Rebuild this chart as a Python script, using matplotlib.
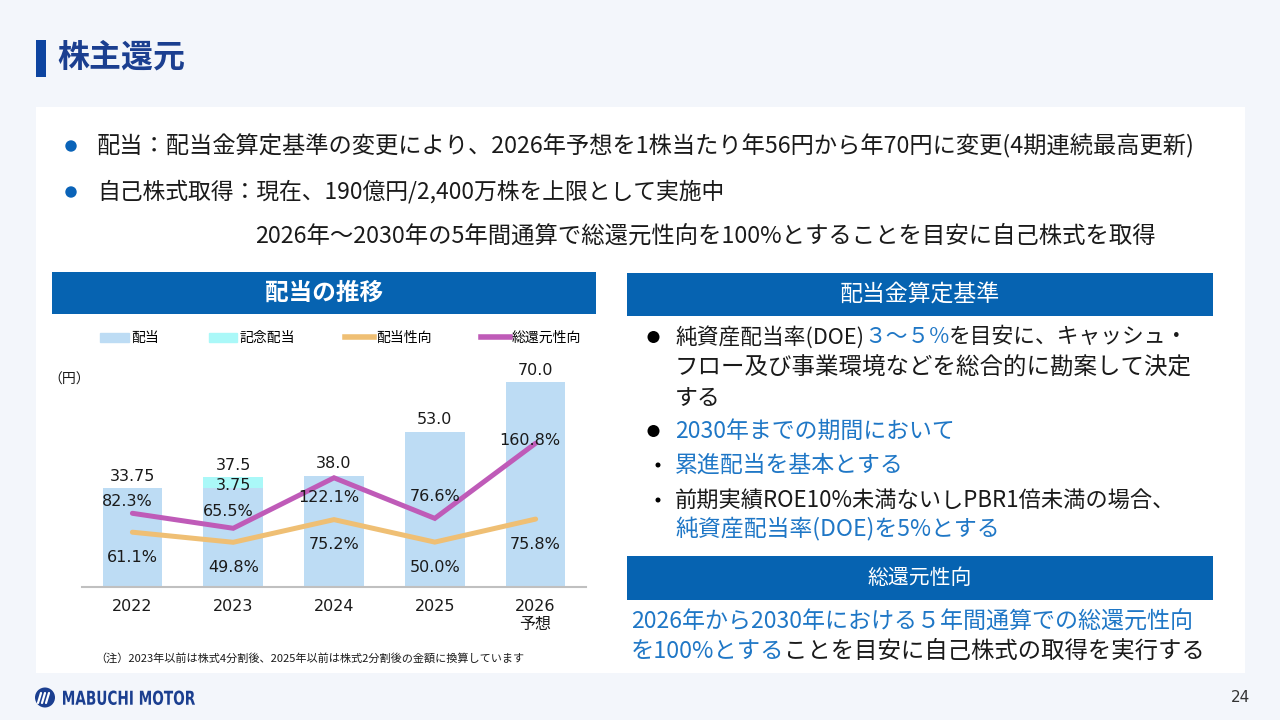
import matplotlib
matplotlib.use('Agg')
import matplotlib.pyplot as plt
from matplotlib import font_manager
from matplotlib.font_manager import FontProperties
from matplotlib.patches import Rectangle, Circle, Patch, PathPatch
from matplotlib.lines import Line2D
from matplotlib.textpath import TextPath
from matplotlib.transforms import Affine2D

plt.rcParams['font.family'] = ['Noto Sans CJK JP', 'DejaVu Sans']

# values
years = ['2022', '2023', '2024', '2025', '2026\n予想']
dividend = [33.75, 33.75, 38.0, 53.0, 70.0]
commemorative = [0.0, 3.75, 0.0, 0.0, 0.0]
dividend_labels = ['33.75', '37.5', '38.0', '53.0', '70.0']
payout_ratio = [61.1, 49.8, 75.2, 50.0, 75.8]
total_return_ratio = [82.3, 65.5, 122.1, 76.6, 160.8]
legend_labels = ['配当', '記念配当', '配当性向', '総還元性向']

# colours
BAR = '#bddcf4'
CYAN = '#aaf8f8'
ORANGE = '#efbf74'
PURPLE = '#bf5bb8'
HEAD = '#0663b1'
NAVY = '#1b3f90'
BLUE_TXT = '#1f77c6'
INK = '#1a1a1a'

W, H = 1280, 720


def has_font(name):
    try:
        font_manager.findfont(name, fallback_to_default=False)
        return True
    except ValueError:
        return False


NARROW = 'Liberation Sans Narrow' if has_font('Liberation Sans Narrow') else 'DejaVu Sans'
NUM_FONT = [NARROW, 'Noto Sans CJK JP']

fig = plt.figure(figsize=(W / 100, H / 100), dpi=100)
fig.patch.set_facecolor('#f3f6fb')

# background axes in pixel coordinates for the slide furniture
bg = fig.add_axes([0, 0, 1, 1])
bg.set_xlim(0, W)
bg.set_ylim(H, 0)
bg.axis('off')
bg.set_zorder(0)
renderer = fig.canvas.get_renderer()


def runs(x, y, parts, size=16.5, end=None):
    """draw coloured pieces of one line; if end is given, scale the size so the line ends there"""
    if end is not None:
        probe = bg.text(x, y, ''.join(s for s, _ in parts), fontsize=size, va='center')
        wid = probe.get_window_extent(renderer=renderer).width
        probe.remove()
        size = size * (end - x) / wid
    for s, c in parts:
        t = bg.text(x, y, s, fontsize=size, color=c, va='center', ha='left')
        x += t.get_window_extent(renderer=renderer).width


bg.add_patch(Rectangle((36, 107), 1209, 566, color='white', lw=0))

# title
bg.add_patch(Rectangle((36, 39.5), 10, 37, color='#0d44a0', lw=0))
bg.text(57, 58, '株主還元', fontsize=23, fontweight='bold', color=NAVY, va='center')

# top bullets
for yy in (146, 192):
    bg.add_patch(Circle((71, yy), 5.7, color='#0a63b8', lw=0))
runs(97, 146, [('配当：配当金算定基準の変更により、2026年予想を1株当たり年56円から年70円に変更(4期連続最高更新)', INK)],
     size=16, end=1197)
runs(97, 192, [('自己株式取得：現在、190億円/2,400万株を上限として実施中', INK)], size=16, end=727)
runs(255, 236, [('2026年～2030年の5年間通算で総還元性向を100%とすることを目安に自己株式を取得', INK)],
     size=16, end=1159)

# section headers
bg.add_patch(Rectangle((52, 272), 544, 42, color=HEAD, lw=0))
bg.text(324, 293, '配当の推移', fontsize=17, fontweight='bold', color='white', ha='center', va='center')
bg.add_patch(Rectangle((627, 273), 586, 43, color=HEAD, lw=0))
bg.text(920, 295, '配当金算定基準', fontsize=16.5, color='white', ha='center', va='center')
bg.add_patch(Rectangle((627, 556), 586, 44, color=HEAD, lw=0))
bg.text(920, 578, '総還元性向', fontsize=15, color='white', ha='center', va='center')

# right panel text
bg.add_patch(Circle((653.5, 337), 6, color='black', lw=0))
bg.add_patch(Circle((653.5, 431), 6, color='black', lw=0))
bg.add_patch(Circle((658, 465), 2.5, color='black', lw=0))
bg.add_patch(Circle((658, 500), 2.5, color='black', lw=0))
runs(675, 337, [('純資産配当率(DOE)', INK), ('３～５%', BLUE_TXT), ('を目安に、キャッシュ・', INK)], end=1187)
runs(675, 368, [('フロー及び事業環境などを総合的に勘案して決定', INK)], end=1190)
runs(675, 398, [('する', INK)])
runs(675, 431, [('2030年までの期間において', BLUE_TXT)])
runs(675, 465, [('累進配当を基本とする', BLUE_TXT)])
runs(675, 500, [('前期実績ROE10%未満ないしPBR1倍未満の場合、', INK)], end=1175)
runs(675, 529, [('純資産配当率(DOE)を5%とする', BLUE_TXT)])
runs(631, 622, [('2026年から2030年における５年間通算での総還元性向', BLUE_TXT)], end=1194)
runs(631, 651, [('を100%とする', BLUE_TXT), ('ことを目安に自己株式の取得を実行する', INK)], end=1204)

# chart notes
bg.text(69, 380, '（円）', fontsize=10, color=INK, ha='center', va='center')
bg.text(310, 658, '（注）2023年以前は株式4分割後、2025年以前は株式2分割後の金額に換算しています',
        fontsize=8, color=INK, ha='center', va='center')

# footer: logo mark + condensed wordmark
bg.add_patch(Circle((45, 697.5), 10, color=NAVY, lw=0))
for dx in (-4, 0, 4):
    bg.plot([38 + dx + 4, 41 + dx + 4], [703, 693], color='white', lw=1.6, solid_capstyle='round')
tp = TextPath((0, 0), 'MABUCHI MOTOR', size=20, prop=FontProperties(family='DejaVu Sans', weight='bold'))
ext = tp.get_extents()
word = Affine2D().translate(-ext.x0, -ext.y0).scale(132 / ext.width, -14.5 / ext.height).translate(63, 705)
bg.add_patch(PathPatch(word.transform_path(tp), color=NAVY, lw=0))
bg.text(1250, 697, '24', fontsize=11, color='#333333', ha='right', va='center',
        family=[NARROW, 'DejaVu Sans'])

# chart
ax = fig.add_axes([82 / W, (H - 586.7) / H, 504 / W, 240 / H])
ax.set_zorder(1)
ax.patch.set_visible(False)
x = list(range(len(years)))
ax.bar(x, dividend, width=0.59, color=BAR, zorder=2)
ax.bar(x, commemorative, bottom=dividend, width=0.59, color=CYAN, zorder=2)
ax.set_xlim(-0.5, 4.5)
ax.set_ylim(0, 240 / 2.92)
ax.set_yticks([])
ax.set_xticks(x, years)
ax.tick_params(axis='x', length=0, pad=9, labelsize=11.5, labelcolor=INK)
for lab in ax.get_xticklabels():
    lab.set_family(NUM_FONT)
for s in ('top', 'left', 'right'):
    ax.spines[s].set_visible(False)
ax.spines['bottom'].set_color('#c0c0c0')
ax.spines['bottom'].set_linewidth(1.5)

for i, (d, c, lab) in enumerate(zip(dividend, commemorative, dividend_labels)):
    ax.annotate(lab, (i, d + c), xytext=(0, 12), textcoords='offset pixels',
                ha='center', va='center', fontsize=11.5, color=INK, family=NUM_FONT)
    if c > 0:
        ax.annotate(f'{c:.2f}', (i, d + c), xytext=(0, -8), textcoords='offset pixels',
                    ha='center', va='center', fontsize=11.5, color=INK, family=NUM_FONT)

ax2 = ax.twinx()
ax2.set_ylim(0, 240 / 0.892)
ax2.set_yticks([])
for s in ax2.spines.values():
    s.set_visible(False)
ax2.plot(x, payout_ratio, color=ORANGE, lw=3.6, solid_capstyle='round', solid_joinstyle='miter')
ax2.plot(x, total_return_ratio, color=PURPLE, lw=3.6, solid_capstyle='round', solid_joinstyle='miter')

total_offsets = [(-5, 12), (-5, 17), (-5, -20), (0, 22), (-6, 3)]
for i, (v, off) in enumerate(zip(total_return_ratio, total_offsets)):
    ax2.annotate(f'{v:.1f}%', (i, v), xytext=off, textcoords='offset pixels',
                 ha='center', va='center', fontsize=11.5, color=INK, family=NUM_FONT)
for i, v in enumerate(payout_ratio):
    ax2.annotate(f'{v:.1f}%', (i, v), xytext=(0, -25), textcoords='offset pixels',
                 ha='center', va='center', fontsize=11.5, color=INK, family=NUM_FONT)

handles = [Patch(color=BAR), Patch(color=CYAN),
           Line2D([], [], color=ORANGE, lw=4), Line2D([], [], color=PURPLE, lw=4)]
fig.legend(handles, legend_labels, ncol=4, loc='center left',
           bbox_to_anchor=(100 / W, 1 - 338 / H), frameon=False, fontsize=10,
           handlelength=2.07, handleheight=0.63, handletextpad=0.15,
           columnspacing=3.6, borderpad=0, borderaxespad=0)

fig.savefig('out.png', dpi=100, facecolor=fig.get_facecolor())
